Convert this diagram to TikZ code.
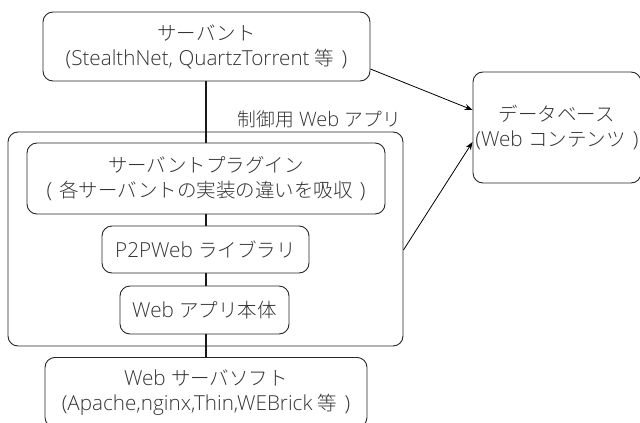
\documentclass[tikz,border=0pt]{standalone}
\usepackage{fontspec}
\setmainfont{Open Sans}[UprightFont={* Light},Scale=1.06]
\newfontfamily\cjk{Noto Sans CJK JP}[UprightFont={* Light}]
\newcommand{\jp}[1]{{\cjk #1}}
\newcommand{\gap}{\hspace{0.35em}}
\usetikzlibrary{arrows.meta}
\begin{document}
\begin{tikzpicture}[x=1pt,y=-1pt,
  box/.style={draw=black!85, line width=0.9pt, rounded corners=10pt, inner sep=0pt, align=center,
    font=\fontsize{19.5}{25}\selectfont, text=black!80},
  link/.style={line width=1.6pt, draw=black!90},
  arr/.style={line width=0.8pt, -{Stealth[length=8pt,width=6pt]}}]
\useasboundingbox (0,0) rectangle (640,423);
\node[box, minimum width=327pt, minimum height=69pt] (serv) at (206.5,46.5) {\jp{サーバント}\\(StealthNet, QuartzTorrent \jp{等}\gap)};
\node[box, minimum width=168pt, minimum height=111pt] (db) at (557,127.5) {\jp{データベース}\\(Web \jp{コンテンツ}\gap)};
\node[box, minimum width=395pt, minimum height=214pt] (ctl) at (205.5,239) {};
\node[anchor=south east, inner sep=0pt, font=\fontsize{18.8}{25}\selectfont, text=black!80] (ctllbl) at (401,128) {\jp{制御用} Web \jp{アプリ}};
\node[box, minimum width=358pt, minimum height=71pt] (plug) at (206,178.5) {\jp{サーバントプラグイン}\\(\gap\jp{各サーバントの実装の違いを吸収}\gap)};
\node[box, minimum width=207pt, minimum height=47pt] (lib) at (205.5,249.5) {P2PWeb \jp{ライブラリ}};
\node[box, minimum width=169pt, minimum height=48pt] (body) at (204.5,310) {Web \jp{アプリ本体}};
\node[box, minimum width=322pt, minimum height=70pt, anchor=north] (ws) at (206,357) {Web \jp{サーバソフト}\\(Apache,nginx,Thin,WEBrick \jp{等}\gap)};
\coordinate (spine) at (206,0);
\draw[link] (serv.south-|spine) -- (ctl.north-|spine);
\draw[link] (ctl.north-|spine) -- (plug.north-|spine);
\draw[link] (plug.south-|spine) -- (lib.north-|spine);
\draw[link] (lib.south-|spine) -- (body.north-|spine);
\draw[link] (body.south-|spine) -- (ctl.south-|spine);
\draw[link] (ctl.south-|spine) -- (ws.north-|spine);
\draw[arr] (serv.east|-0,69) -- (db.west|-0,110);
\draw[arr] (ctl.east|-0,250) -- (db.west|-0,142);
\end{tikzpicture}
\end{document}
